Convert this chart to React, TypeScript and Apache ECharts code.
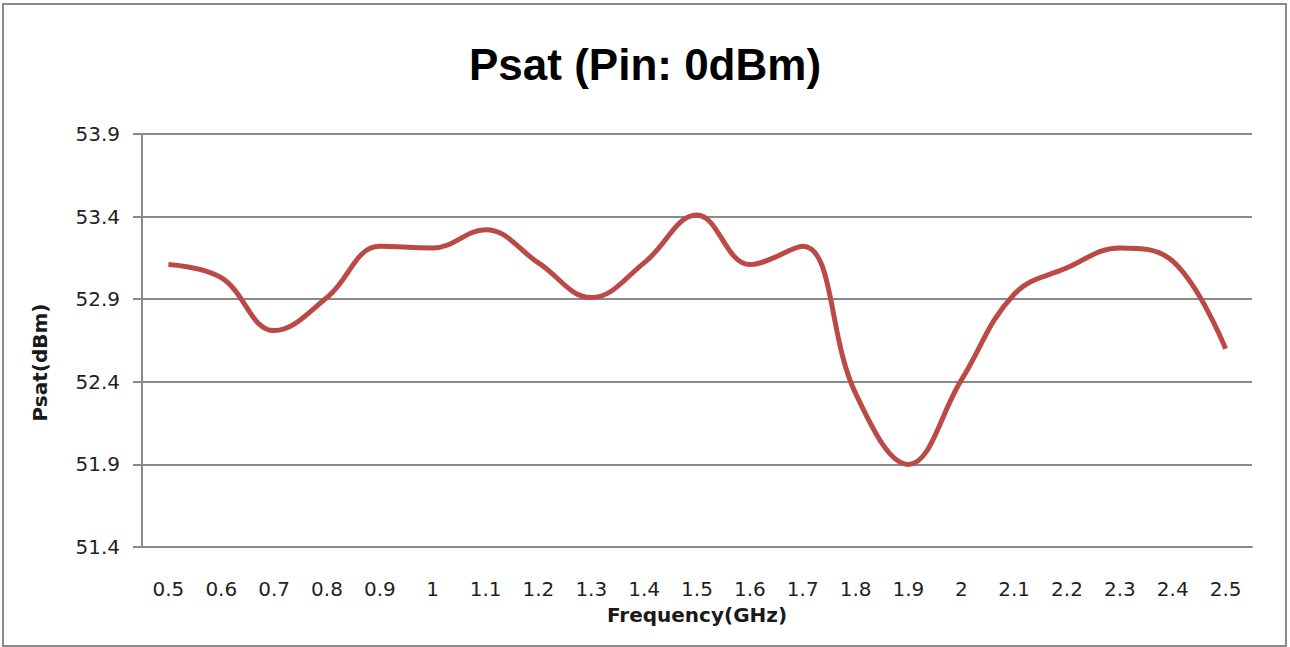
import React, { useEffect, useRef } from "react";
import * as echarts from "echarts";

const categories = ["0.5","0.6","0.7","0.8","0.9","1","1.1","1.2","1.3","1.4","1.5","1.6","1.7","1.8","1.9","2","2.1","2.2","2.3","2.4","2.5"];
const psatValues = [53.11, 53.03, 52.71, 52.91, 53.22, 53.21, 53.32, 53.12, 52.91, 53.12, 53.41, 53.11, 53.22, 52.33, 51.90, 52.41, 52.93, 53.09, 53.21, 53.13, 52.60];
const yMin = 51.4;
const yMax = 53.9;
const yStep = 0.5;

export default function App() {
  const ref = useRef<HTMLDivElement>(null);
  useEffect(() => {
    document.body.style.margin = "0";
    const chart = echarts.init(ref.current!, null, { renderer: "svg" });
    const labelFont = "'DejaVu Sans', sans-serif";
    chart.setOption({
      animation: false,
      backgroundColor: "#ffffff",
      title: {
        text: "Psat (Pin: 0dBm)",
        left: "center",
        top: 37,
        textStyle: { fontFamily: "'Liberation Sans', Arial, sans-serif", fontWeight: "bold", fontSize: 44, color: "#000" },
      },
      graphic: [
        {
          type: "rect",
          shape: { x: 3, y: 4, width: 1283, height: 642 },
          style: { fill: "none", stroke: "#8a8a8a", lineWidth: 2 },
          silent: true,
          z: -10,
        },
      ],
      grid: { left: 142, right: 38, top: 134, bottom: 100, containLabel: false },
      xAxis: {
        type: "category",
        data: categories,
        boundaryGap: true,
        name: "Frequency(GHz)",
        nameLocation: "middle",
        nameGap: 58,
        nameTextStyle: { fontFamily: labelFont, fontWeight: "bold", fontSize: 20, color: "#1a1a1a" },
        axisLine: { lineStyle: { color: "#8a8a8a", width: 2 } },
        axisTick: { show: false },
        axisLabel: { fontFamily: labelFont, fontSize: 20, color: "#1f1f1f", margin: 32, interval: 0 },
        splitLine: { show: false },
      },
      yAxis: {
        type: "value",
        min: yMin,
        max: yMax,
        interval: yStep,
        name: "Psat(dBm)",
        nameLocation: "middle",
        nameGap: 92,
        nameTextStyle: { fontFamily: labelFont, fontWeight: "bold", fontSize: 20, color: "#1a1a1a", padding: [0, 44, 0, 0] },
        axisLine: { show: true, lineStyle: { color: "#8a8a8a", width: 2 } },
        axisTick: { show: true, length: 9, lineStyle: { color: "#8a8a8a", width: 2 } },
        axisLabel: { fontFamily: labelFont, fontSize: 20, color: "#1f1f1f", margin: 22, formatter: (v: number) => v.toFixed(1) },
        splitLine: { show: true, lineStyle: { color: "#8a8a8a", width: 2 } },
      },
      series: [
        {
          type: "line",
          data: psatValues,
          smooth: 0.4,
          symbol: "none",
          lineStyle: { color: "#BB4A47", width: 5 },
        },
      ],
    });
    return () => chart.dispose();
  }, []);
  return <div ref={ref} style={{ width: 1290, height: 647 }} />;
}
